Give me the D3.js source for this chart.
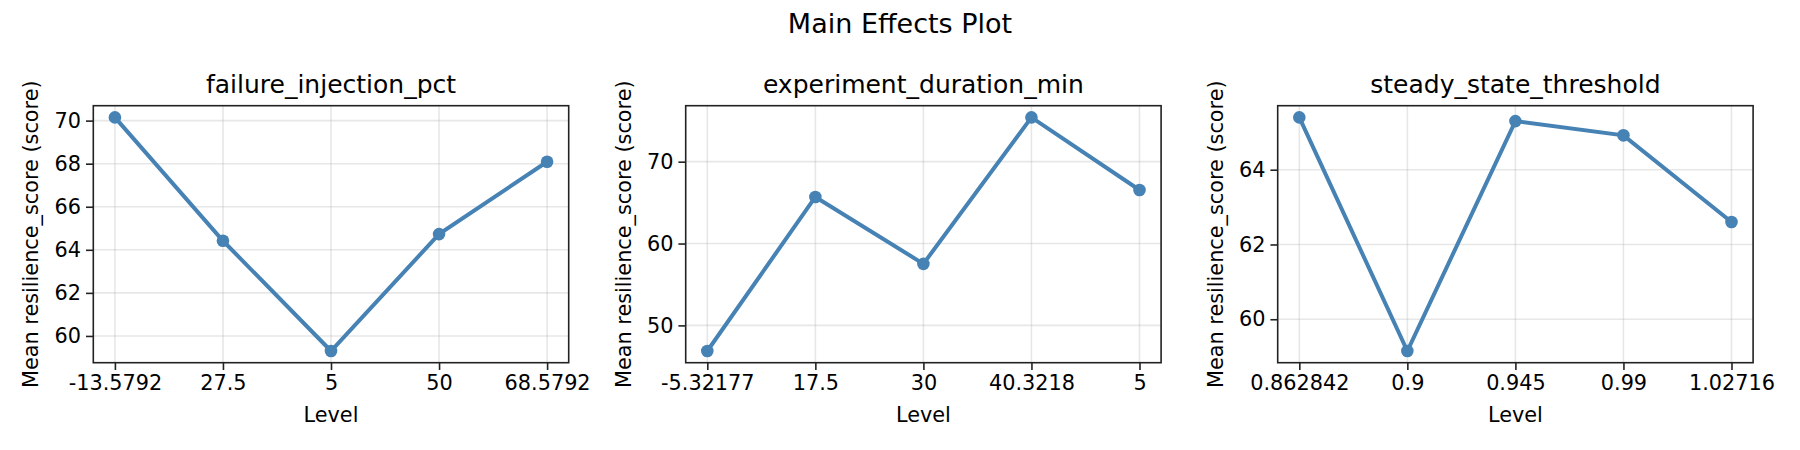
<!DOCTYPE html>
<html lang="en">
<head>
  <meta charset="UTF-8">
  <title>Main Effects Plot</title>
  <script src="https://d3js.org/d3.v7.min.js"></script>
  <style>
    body { margin: 0; background: #fff; }
    text { font-family: "DejaVu Sans", sans-serif; fill: #000; }
  </style>
</head>
<body>
  <div class="canvas"></div>
  <script>
    // factors and their levels (tick labels as shown on the x axis)
    const factors = ['failure_injection_pct', 'experiment_duration_min', 'steady_state_threshold'];
    const failureLevels = ['-13.5792', '27.5', '5', '50', '68.5792'];
    const durationLevels = ['-5.32177', '17.5', '30', '40.3218', '5'];
    const thresholdLevels = ['0.862842', '0.9', '0.945', '0.99', '1.02716'];

    // mean resilience_score per level
    const failureMeans = [70.15, 64.42, 59.30, 64.73, 68.09];
    const durationMeans = [46.87, 65.69, 57.52, 75.41, 66.54];
    const thresholdMeans = [65.40, 59.15, 65.30, 64.92, 62.60];

    // y ticks per panel
    const failureTicks = [60, 62, 64, 66, 68, 70];
    const durationTicks = [50, 60, 70];
    const thresholdTicks = [60, 62, 64];

    const panels = [
      { title: factors[0], levels: failureLevels, means: failureMeans, ticks: failureTicks },
      { title: factors[1], levels: durationLevels, means: durationMeans, ticks: durationTicks },
      { title: factors[2], levels: thresholdLevels, means: thresholdMeans, ticks: thresholdTicks }
    ];

    const width = 1800;
    const height = 450;
    const plotTop = 105.7, plotBottom = 362.7;
    const lefts = [93.3, 685.7, 1277.7];
    const pw = 475.4;
    const ph = plotBottom - plotTop;
    const color = '#4682b4';

    const svg = d3.select('.canvas')
                  .append('svg')
                  .attr('width', width)
                  .attr('height', height);

    svg.append('text')
       .attr('x', 900)
       .attr('y', 33)
       .attr('text-anchor', 'middle')
       .style('font-size', '27px')
       .text('Main Effects Plot');

    panels.forEach((p, i) => {
      const g = svg.append('g')
                   .attr('transform', `translate(${lefts[i]}, ${plotTop})`);

      const x = d3.scalePoint()
                  .domain(p.levels)
                  .range([0, pw])
                  .padding(0.2);

      // matplotlib style 5% margins
      const lo = d3.min(p.means), hi = d3.max(p.means);
      const pad = (hi - lo) * 0.05;
      const y = d3.scaleLinear()
                  .domain([lo - pad, hi + pad])
                  .range([ph, 0]);

      // grid
      g.append('g')
        .selectAll('line')
        .data(p.levels)
        .enter().append('line')
        .attr('x1', d => x(d)).attr('x2', d => x(d))
        .attr('y1', 0).attr('y2', ph)
        .attr('stroke', '#b0b0b0').attr('stroke-opacity', 0.3).attr('stroke-width', 1.6);
      g.append('g')
        .selectAll('line')
        .data(p.ticks)
        .enter().append('line')
        .attr('x1', 0).attr('x2', pw)
        .attr('y1', d => y(d)).attr('y2', d => y(d))
        .attr('stroke', '#b0b0b0').attr('stroke-opacity', 0.3).attr('stroke-width', 1.6);

      // axes
      const xAxis = g.append('g')
        .attr('transform', `translate(0, ${ph})`)
        .call(d3.axisBottom(x).tickSizeOuter(0).tickSize(7.3).tickPadding(5));
      const yAxis = g.append('g')
        .call(d3.axisLeft(y).tickValues(p.ticks).tickFormat(d3.format('d'))
                .tickSizeOuter(0).tickSize(7.3).tickPadding(5));
      [xAxis, yAxis].forEach(a => {
        a.select('.domain').remove();
        a.selectAll('line').attr('stroke', '#222').attr('stroke-width', 1.6);
        a.selectAll('text').style('font-size', '20.8px').style('font-family', '"DejaVu Sans", sans-serif').attr('fill', '#000');
      });

      // frame
      g.append('rect')
        .attr('width', pw).attr('height', ph)
        .attr('fill', 'none').attr('stroke', '#222').attr('stroke-width', 1.6);

      // line + markers
      const line = d3.line()
                     .x((d, j) => x(p.levels[j]))
                     .y(d => y(d));
      g.append('path')
        .datum(p.means)
        .attr('d', line)
        .attr('fill', 'none')
        .attr('stroke', color)
        .attr('stroke-width', 4);
      g.selectAll('circle')
        .data(p.means)
        .enter().append('circle')
        .attr('cx', (d, j) => x(p.levels[j]))
        .attr('cy', d => y(d))
        .attr('r', 6.3)
        .attr('fill', color);

      // titles
      g.append('text')
        .attr('x', pw / 2).attr('y', -13)
        .attr('text-anchor', 'middle')
        .style('font-size', '25px')
        .text(p.title);
      g.append('text')
        .attr('x', pw / 2).attr('y', ph + 59)
        .attr('text-anchor', 'middle')
        .style('font-size', '20.8px')
        .text('Level');
      g.append('text')
        .attr('transform', `translate(-55, ${ph / 2}) rotate(-90)`)
        .attr('text-anchor', 'middle')
        .style('font-size', '20.8px')
        .text('Mean resilience_score (score)');
    });
  </script>
</body>
</html>
